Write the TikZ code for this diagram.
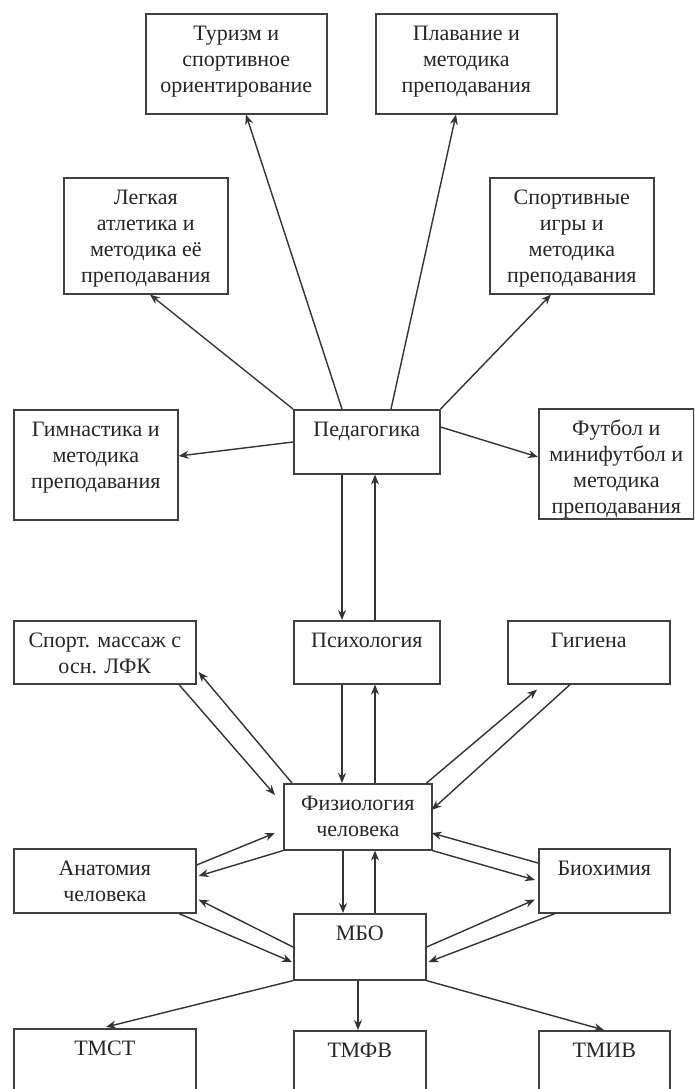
\documentclass[tikz,border=0pt]{standalone}
\usepackage{fontspec}
\setmainfont{Liberation Serif}
\usepackage{tikz}
\usetikzlibrary{arrows.meta,calc}

\newcommand{\boxtext}[3]{\parbox[t][#2][t]{#1}{\centering\vspace*{8.5pt}\strut #3}}

\tikzset{
  box/.style={draw=black!75, line width=1.6pt, inner sep=0pt, anchor=north west,
    font=\fontsize{22}{26}\selectfont, text=black!85},
  link/.style={draw=black!80, line width=1.4pt, -{Stealth[length=10pt,width=8pt]}}
}

\begin{document}
\begin{tikzpicture}[x=1pt,y=-1pt] % 1pt = 1px of the sheet
	\clip (0,0) rectangle (694,1089);
	\fill[white] (0,0) rectangle (694,1089);
	% upper row
	\node[box](tur) at (145,13) {\boxtext{181pt}{100pt}{Туризм и\\спортивное\\ориентирование}};
	\node[box](plav) at (375,13) {\boxtext{181pt}{100pt}{Плавание и\\методика\\преподавания}};
	\node[box](leg) at (63,177) {\boxtext{164pt}{116pt}{Легкая\\атлетика и\\методика её\\преподавания}};
	\node[box](sport) at (489,177) {\boxtext{164pt}{116pt}{Спортивные\\игры и\\методика\\преподавания}};
	\node[box](gym) at (13,409) {\boxtext{164pt}{110pt}{Гимнастика и\\методика\\преподавания}};
	\node[box](ped) at (293,409) {\boxtext{146pt}{64pt}{Педагогика}};
	\node[box](fut) at (538,408) {\boxtext{155pt}{110pt}{Футбол и\\минифутбол и\\методика\\преподавания}};
	% middle
	\node[box](mas) at (13,620) {\boxtext{182pt}{63pt}{Спорт. массаж с\\осн. ЛФК}};
	\node[box](psy) at (293,620) {\boxtext{146pt}{63pt}{Психология}};
	\node[box](gig) at (507,620) {\boxtext{162pt}{63pt}{Гигиена}};
	\node[box](fiz) at (283,783) {\boxtext{148pt}{66pt}{Физиология\\человека}};
	\node[box](anat) at (13,848) {\boxtext{182pt}{64pt}{Анатомия\\человека}};
	\node[box](bio) at (538,848) {\boxtext{131pt}{64pt}{Биохимия}};
	\node[box](mbo) at (293,913) {\boxtext{132pt}{66pt}{МБО}};
	% lower row
	\node[box](tmst) at (13,1028) {\boxtext{182pt}{80pt}{ТМСТ}};
	\node[box](tmfv) at (293,1030) {\boxtext{132pt}{80pt}{ТМФВ}};
	\node[box](tmiv) at (538,1030) {\boxtext{131pt}{80pt}{ТМИВ}};

	\draw[link] ($(ped.north west)+(49,0)$) -- ($(tur.south west)+(101,0)$);
	\draw[link] ($(ped.north west)+(98,0)$) -- ($(plav.south west)+(81,0)$);
	\draw[link] (ped.north west) -- ($(leg.south west)+(87,0)$);
	\draw[link] (ped.north east) -- ($(sport.south west)+(62,0)$);
	\draw[link] ($(ped.north west)+(0,33)$) -- ($(gym.north east)+(0,47)$);
	\draw[link] ($(ped.north east)+(0,18)$) -- ($(fut.north west)+(0,49)$);
	\draw[link] ($(ped.south west)+(49,0)$) -- ($(psy.north west)+(49,0)$);
	\draw[link] ($(psy.north west)+(82,0)$) -- ($(ped.south west)+(82,0)$);

	\draw[link] ($(mas.south west)+(166,0)$) -- ($(fiz.north west)+(-8,12)$);
	\draw[link] ($(fiz.north west)+(9,0)$) -- ($(mas.north east)+(2,52)$);
	\draw[link] ($(psy.south west)+(49,0)$) -- ($(fiz.north west)+(59,0)$);
	\draw[link] ($(fiz.north west)+(92,0)$) -- ($(psy.south west)+(82,0)$);
	\draw[link] ($(fiz.north east)+(-6,0)$) -- ($(gig.south west)+(30,5)$);
	\draw[link] ($(gig.south west)+(63,0)$) -- ($(fiz.north east)+(-1,27)$);

	\draw[link] ($(anat.north east)+(0,17)$) -- ($(fiz.north west)+(-8,50)$);
	\draw[link] (fiz.south west) -- ($(anat.north east)+(2,28)$);
	\draw[link] ($(bio.north west)+(0,15)$) -- ($(fiz.north east)+(-1,50)$);
	\draw[link] (fiz.south east) -- ($(bio.north west)+(-3,32)$);
	\draw[link] ($(fiz.south west)+(60,0)$) -- ($(mbo.north west)+(50,0)$);
	\draw[link] ($(mbo.north west)+(82,0)$) -- ($(fiz.south west)+(92,0)$);

	\draw[link] ($(mbo.north west)+(0,34)$) -- ($(anat.south east)+(2,-14)$);
	\draw[link] ($(anat.south west)+(166,0)$) -- ($(mbo.north west)+(-1,49)$);
	\draw[link] ($(mbo.north east)+(0,34)$) -- ($(bio.south west)+(-3,-14)$);
	\draw[link] ($(bio.south west)+(17,0)$) -- ($(mbo.north east)+(2,49)$);
	\draw[link] (mbo.south west) -- ($(tmst.north west)+(93,-1)$);
	\draw[link] ($(mbo.south west)+(65,0)$) -- ($(tmfv.north west)+(65,0)$);
	\draw[link] (mbo.south east) -- ($(tmiv.north west)+(66,0)$);
\end{tikzpicture}
\end{document}
